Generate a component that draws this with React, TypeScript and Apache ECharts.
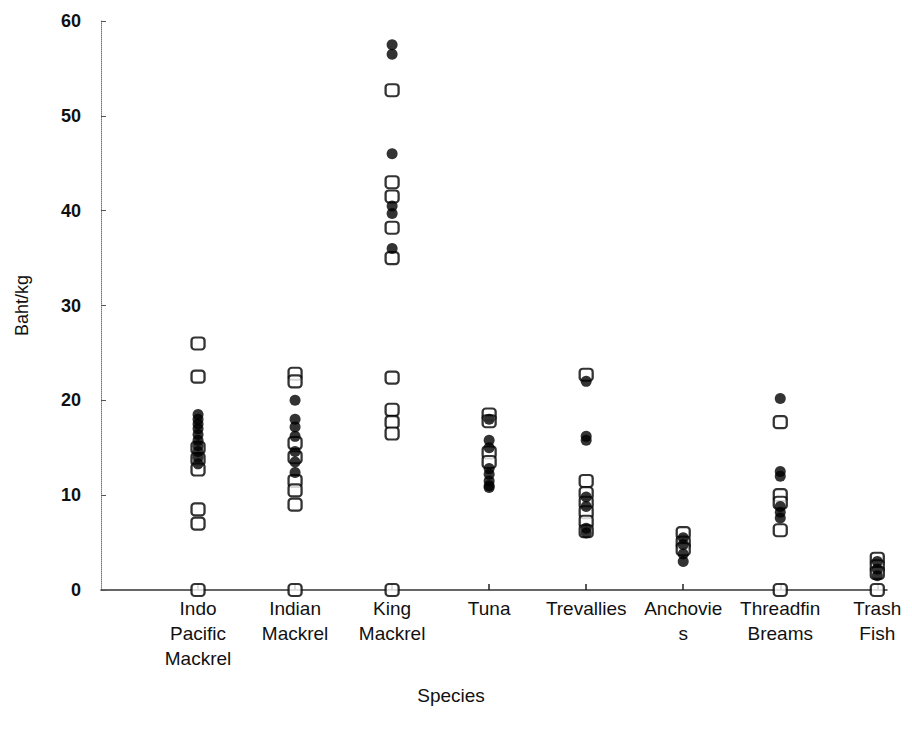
import React, { useEffect, useRef } from "react";
import * as echarts from "echarts";

const categories = [
  "Indo\nPacific\nMackrel",
  "Indian\nMackrel",
  "King\nMackrel",
  "Tuna",
  "Trevallies",
  "Anchovie\ns",
  "Threadfin\nBreams",
  "Trash\nFish",
];

const yTicks = [0, 10, 20, 30, 40, 50, 60];

// open squares, per species
const indoSq = [26, 22.5, 15, 13.8, 12.7, 8.5, 7, 0];
const indianSq = [22.8, 22, 15.5, 14, 11.5, 10.5, 9, 0];
const kingSq = [52.7, 43, 41.5, 38.2, 35, 22.4, 19, 17.7, 16.5, 0];
const tunaSq = [18.5, 17.8, 14.5, 13.5];
const trevSq = [22.7, 11.5, 10.2, 9.2, 8.2, 7.2, 6.2];
const anchSq = [6, 5, 4.3];
const threadSq = [17.7, 10, 9.2, 6.3, 0];
const trashSq = [3.3, 2.5, 1.8, 0];

// filled circles, per species
const indoCi = [18.5, 18, 17.5, 17, 16.4, 15.8, 15.2, 14.6, 14, 13.3];
const indianCi = [20, 18, 17.2, 16.2, 14.6, 13.5, 12.4];
const kingCi = [57.5, 56.5, 46, 40.5, 39.7, 36];
const tunaCi = [18, 15.8, 15, 12.8, 12.2, 11.5, 11, 10.8];
const trevCi = [22, 16.2, 15.8, 9.8, 8.8, 6.5, 6];
const anchCi = [5.5, 4.8, 3.8, 3];
const threadCi = [20.2, 12.5, 12, 8.8, 8.2, 7.6];
const trashCi = [3, 2.2, 1.5];

const squareGroups = [indoSq, indianSq, kingSq, tunaSq, trevSq, anchSq, threadSq, trashSq];
const circleGroups = [indoCi, indianCi, kingCi, tunaCi, trevCi, anchCi, threadCi, trashCi];

const toPoints = (groups: number[][]) =>
  groups.flatMap((vals, i) => vals.map((v) => [i + 1, v]));

export default function App() {
  const ref = useRef<HTMLDivElement>(null);
  useEffect(() => {
    document.body.style.margin = "0";
    const chart = echarts.init(ref.current!, null, { renderer: "svg" });
    const font = "'Liberation Sans', Arial, sans-serif";
    chart.setOption({
      animation: false,
      backgroundColor: "#ffffff",
      grid: { left: 101, top: 21, width: 786, bottom: 145 },
      xAxis: {
        type: "value",
        min: 0,
        max: 8.1,
        interval: 1,
        name: "Species",
        nameLocation: "middle",
        nameGap: 96,
        nameTextStyle: {
          fontFamily: font,
          fontSize: 19,
          color: "#111",
          padding: [0, 86, 0, 0],
        },
        axisLine: { show: true, onZero: false, lineStyle: { color: "#333", width: 1.5 } },
        axisTick: {
          show: true,
          inside: true,
          length: 6,
          customValues: categories.map((_, i) => i + 1),
          lineStyle: { color: "#222", width: 1.5 },
        },
        splitLine: { show: false },
        axisLabel: {
          customValues: categories.map((_, i) => i + 1),
          formatter: (v: number) => categories[Math.round(v) - 1] ?? "",
          fontFamily: font,
          fontSize: 19,
          lineHeight: 25,
          color: "#111",
          margin: 6,
        },
      },
      yAxis: {
        type: "value",
        min: 0,
        max: 60,
        interval: 10,
        name: "Baht/kg",
        nameLocation: "middle",
        nameGap: 70,
        nameRotate: 90,
        nameTextStyle: { fontFamily: font, fontSize: 18, color: "#111" },
        axisLine: { show: true, lineStyle: { color: "#777", width: 1, type: "dotted" } },
        axisTick: { show: true, inside: true, length: 5, lineStyle: { color: "#555" } },
        splitLine: { show: false },
        axisLabel: {
          customValues: yTicks,
          fontFamily: font,
          fontSize: 18,
          fontWeight: "bold",
          color: "#111",
          margin: 20,
        },
      },
      series: [
        {
          name: "squares",
          type: "scatter",
          data: toPoints(squareGroups),
          symbol: "roundRect",
          symbolSize: [13, 12],
          itemStyle: { color: "#ffffff", borderColor: "#000", borderWidth: 2.2 },
          z: 2,
        },
        {
          name: "circles",
          type: "scatter",
          data: toPoints(circleGroups),
          symbol: "circle",
          symbolSize: 11,
          itemStyle: { color: "#000" },
          z: 3,
        },
      ],
    });
    return () => chart.dispose();
  }, []);
  return <div ref={ref} style={{ width: 912, height: 735 }} />;
}
